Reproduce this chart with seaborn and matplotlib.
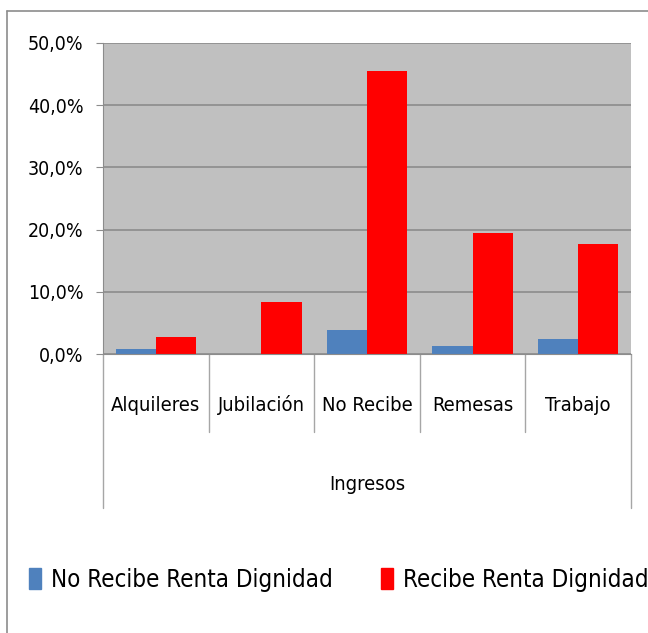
import matplotlib
matplotlib.use('Agg')
import matplotlib.pyplot as plt
import matplotlib.transforms as mtransforms
from matplotlib.lines import Line2D
from matplotlib.patches import Patch
from matplotlib.ticker import FuncFormatter
import seaborn as sns
import pandas as pd

# datos (%)
categorias = ['Alquileres', 'Jubilación', 'No Recibe', 'Remesas', 'Trabajo']
no_recibe = [0.8, 0.0, 3.9, 1.3, 2.4]
recibe = [2.7, 8.4, 45.5, 19.4, 17.7]
series = ['No Recibe Renta Dignidad', 'Recibe Renta Dignidad']
colores = ['#4f81bd', '#ff0000']

df = pd.DataFrame({
    'Ingresos': categorias * 2,
    'valor': no_recibe + recibe,
    'serie': [series[0]] * len(categorias) + [series[1]] * len(categorias),
})

sns.set_style('white')
plt.rcParams['font.family'] = ['DejaVu Sans']
plt.rcParams['font.stretch'] = 'condensed'
plt.rcParams['text.color'] = 'black'
plt.rcParams['ytick.labelcolor'] = 'black'

fig = plt.figure(figsize=(6.48, 6.33), dpi=100)
ax = fig.add_axes([103 / 648, 1 - 354 / 633, (631 - 103) / 648, (354 - 43) / 633])
ax.set_facecolor('#c0c0c0')

sns.barplot(data=df, x='Ingresos', y='valor', hue='serie', palette=colores,
            saturation=1, width=0.76, linewidth=0, ax=ax, legend=False)

ax.set_xlim(-0.5, len(categorias) - 0.5)
ax.set_ylim(0, 50)
ax.set_yticks(range(0, 51, 10))
ax.yaxis.set_major_formatter(FuncFormatter(lambda v, _: f'{v:.1f}%'.replace('.', ',')))
ax.yaxis.grid(True, color='#8c8c8c', lw=1.2)
ax.set_axisbelow(True)
for s in ['top', 'right']:
    ax.spines[s].set_visible(False)
for s in ['left', 'bottom']:
    ax.spines[s].set_color('#8c8c8c')
ax.tick_params(axis='y', length=5, color='#8c8c8c', pad=9, labelsize=14, left=True)
ax.tick_params(axis='x', length=0, labelbottom=False)
ax.set_xlabel('')
ax.set_ylabel('')

# tabla de categorias bajo el eje
trans = mtransforms.blended_transform_factory(ax.transData, ax.transAxes)
xs = ax.get_xticks()
for x, c in zip(xs, categorias):
    ax.text(x, -0.164, c, ha='center', va='center', transform=trans, fontsize=14.5)
for k in range(len(categorias) + 1):
    x = k - 0.5
    ybot = -0.495 if k in (0, len(categorias)) else -0.25
    ax.plot([x, x], [0, ybot], transform=trans, clip_on=False, color='#a6a6a6', lw=1)
ax.text(0.5, -0.42, 'Ingresos', ha='center', va='center', transform=ax.transAxes, fontsize=14.5)

# borde del area del grafico
fig.add_artist(Line2D([7 / 648, 7 / 648], [0, 1 - 11 / 633], transform=fig.transFigure,
                      color='#8c8c8c', lw=1.2))
fig.add_artist(Line2D([7 / 648, 1], [1 - 11 / 633, 1 - 11 / 633], transform=fig.transFigure,
                      color='#8c8c8c', lw=1.2))

handles = [Patch(color=c) for c in colores]
fig.legend(handles, series, loc='center left', bbox_to_anchor=(22 / 648, 1 - 580 / 633), ncol=2,
           frameon=False, fontsize=17.3, handlelength=0.5, handleheight=0.95,
           handletextpad=0.42, columnspacing=2.0, borderaxespad=0, borderpad=0.3)

fig.savefig('out.png', dpi=100)
